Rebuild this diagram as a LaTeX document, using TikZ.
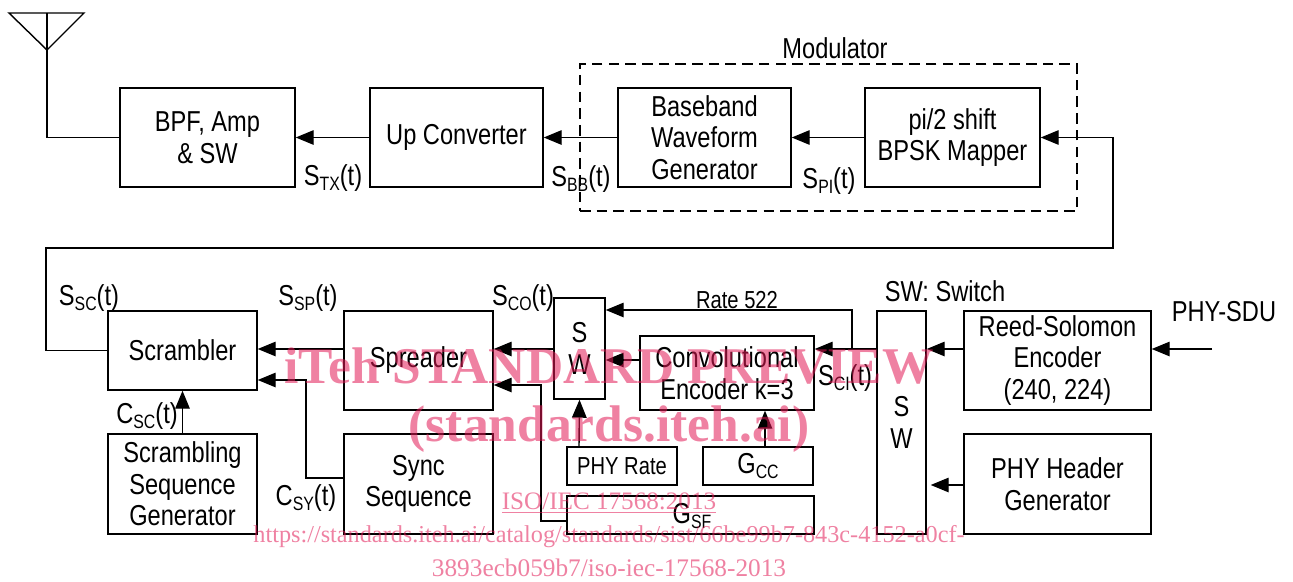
\documentclass[tikz,border=0pt]{standalone}
\usepackage{fontspec}
\setmainfont{Liberation Sans}[FakeStretch=0.82]
\newfontfamily\wmfont{Liberation Serif}
\usepackage{xcolor}
\usetikzlibrary{arrows.meta,positioning,calc,fit}
\definecolor{wmpink}{HTML}{E11955}
\newcommand{\sgn}[2]{#1\raisebox{-0.35ex}{\fontsize{11}{11}\selectfont #2}}

\begin{document}
\begin{tikzpicture}[
  block/.style={draw, line width=0.8pt, inner sep=0pt, align=center, font=\fontsize{16.4}{17.9}\selectfont},
  smallblock/.style={block, font=\fontsize{14}{15}\selectfont},
  arrow/.style={-{Triangle[length=3.6mm, width=2.9mm]}, line width=0.8pt},
  wire/.style={line width=0.8pt},
  sig/.style={inner sep=0pt, font=\fontsize{16.4}{17.9}\selectfont},
  mark text/.style={inner sep=0pt, text=wmpink, text opacity=0.55, align=center}
]
\useasboundingbox (0,0) rectangle (25.86,11.62);

% Top row
\node[block, minimum width=3.5cm, minimum height=1.98cm] (bpf) at (4.15, 8.87) {BPF, Amp\\\& SW};
\node[block, minimum width=3.46cm, minimum height=1.98cm] (upc) at (9.13, 8.87) {Up Converter};
\node[block, minimum width=3.46cm, minimum height=1.98cm] (bbw) at (14.09, 8.87) {Baseband\\Waveform\\Generator};
\node[block, minimum width=3.5cm, minimum height=1.98cm] (map) at (19.05, 8.87) {pi/2 shift\\BPSK Mapper};
\node[draw, dashed, line width=0.8pt, dash pattern=on 6pt off 3.5pt, inner sep=0pt, minimum width=9.94cm, minimum height=2.94cm] (mod) at (16.57, 8.87) {};
\node[sig, above=0.08cm of mod.north, xshift=0.13cm] (modt) {Modulator};

% Antenna
\node[inner sep=0pt, minimum size=0pt] (ant) at (0.94, 10.62) {};
\coordinate (antl) at (0.18, 11.36);
\coordinate (antr) at (1.68, 11.36);
\coordinate (anttop) at (0.94, 11.36);
\draw[wire] (antl) -- (antr) -- (ant.center) -- cycle;
\draw[wire] (anttop) -- (ant.center) |- (bpf.west);

% Lower row
\node[block, minimum width=2.98cm, minimum height=1.58cm] (scr) at (3.65, 4.61) {Scrambler};
\node[block, minimum width=2.98cm, minimum height=2cm] (scs) at (3.65, 1.94) {Scrambling\\Sequence\\Generator};
\node[block, minimum width=2.98cm, minimum height=1.98cm] (spr) at (8.37, 4.41) {Spreader};
\node[block, minimum width=2.98cm, minimum height=2cm] (syn) at (8.37, 1.94) {Sync\\Sequence};
\node[block, minimum width=1.02cm, minimum height=2.02cm] (swa) at (11.59, 4.65) {S\\W};
\node[block, minimum width=3.48cm, minimum height=1.48cm] (conv) at (14.54, 4.16) {Convolutional\\Encoder k=3};
\node[smallblock, minimum width=2.2cm, minimum height=0.76cm] (rate) at (12.44, 2.30) {PHY Rate};
\node[block, minimum width=2.2cm, minimum height=0.76cm] (gcc) at (15.16, 2.30) {\sgn{G}{CC}};
\node[block, minimum width=4.94cm, minimum height=0.76cm] (gsf) at (13.81, 1.32) {};
\node[sig] (gsft) at (13.84, 1.30) {\sgn{G}{SF}};
\node[block, minimum width=0.98cm, minimum height=4.46cm] (swb) at (18.03, 3.17) {S\\W};
\node[block, minimum width=3.74cm, minimum height=1.98cm] (rs) at (21.15, 4.41) {Reed-Solomon\\Encoder\\(240, 224)};
\node[block, minimum width=3.74cm, minimum height=2cm] (phh) at (21.15, 1.94) {PHY Header\\Generator};

% Helper points
\coordinate (rowa) at (0, 4.64);
\coordinate (rowb) at (0, 3.92);
\coordinate (ratey) at (0, 5.42);
\coordinate (sdu) at (24.24, 4.64);
\coordinate (loopa) at (22.26, 8.87);
\coordinate (loopb) at (22.26, 6.66);
\coordinate (loopc) at (0.92, 6.66);
\coordinate (tap) at (17.04, 4.64);

% Top row arrows
\draw[arrow] (upc.west) -- (bpf.east);
\draw[arrow] (bbw.west) -- (upc.east);
\draw[arrow] (map.west) -- (bbw.east);
\draw[arrow] (scr.west) -| (loopc) -- (loopb) -- (loopa) -- (map.east);

% Lower row arrows
\draw[arrow] (sdu) -- (rs.east |- sdu);
\draw[arrow] (rs.west |- rowa) -- (swb.east |- rowa);
\draw[arrow] (phh.west |- 0,1.92) -- ([xshift=0.08cm]swb.east |- 0,1.92);
\draw[arrow] (swb.west |- rowa) -- (conv.east |- rowa);
\draw[arrow] (tap) |- (swa.east |- ratey);
\draw[arrow] (conv.west |- 0,4.42) -- (swa.east |- 0,4.42);
\draw[arrow] (swa.west |- rowa) -- (spr.east |- rowa);
\draw[arrow] (spr.west |- rowa) -- (scr.east |- rowa);
\draw[arrow] (gsf.west |- 0,1.2) -| (10.82,3.92) -- (spr.east |- rowb);
\draw[arrow] (syn.west |- 0,2.06) -| (6.12,4.02) -- (scr.east |- 0,4.02);
\draw[arrow] (scs.north) -- (scr.south);
\draw[arrow] (rate.north -| 11.58,0) -- (swa.south);
\draw[arrow] (gcc.north -| 15.3,0) -- (conv.south -| 15.3,0);

% Signal names
\node[sig] (stx) at (6.66, 8.06) {\sgn{S}{TX}(t)};
\node[sig] (sbb) at (11.62, 8.04) {\sgn{S}{BB}(t)};
\node[sig] (spi) at (16.58, 8.00) {\sgn{S}{PI}(t)};
\node[sig] (ssc) at (1.78, 5.66) {\sgn{S}{SC}(t)};
\node[sig] (ssp) at (6.16, 5.66) {\sgn{S}{SP}(t)};
\node[sig] (sco) at (10.46, 5.66) {\sgn{S}{CO}(t)};
\node[sig] (csc) at (2.94, 3.30) {\sgn{C}{SC}(t)};
\node[sig] (csy) at (6.12, 1.66) {\sgn{C}{SY}(t)};
\node[sig] (sci) at (16.90, 4.06) {\sgn{S}{CI}(t)};
\node[smallblock, draw=none] (rt) at (14.74, 5.62) {Rate 522};
\node[sig] (swkey) at (18.90, 5.80) {SW: Switch};
\node[sig] (phy) at (24.48, 5.38) {PHY-SDU};

% Watermark
\node[mark text, font=\wmfont\bfseries\fontsize{29.3}{30}\selectfont] (wma) at (12.18, 4.30) {iTeh STANDARD PREVIEW};
\node[mark text, font=\wmfont\bfseries\fontsize{29.3}{30}\selectfont] (wmb) at (12.18, 3.04) {(standards.iteh.ai)};
\node[mark text, font=\wmfont\fontsize{14.3}{16}\selectfont] (wmc) at (12.18, 1.56) {\underline{ISO/IEC 17568:2013}};
\node[mark text, font=\wmfont\fontsize{13.8}{16}\selectfont] (wmd) at (12.18, 0.88) {https://standards.iteh.ai/catalog/standards/sist/66be99b7-843c-4152-a0cf-};
\node[mark text, font=\wmfont\fontsize{14.4}{16}\selectfont] (wme) at (12.18, 0.26) {3893ecb059b7/iso-iec-17568-2013};

\end{tikzpicture}
\end{document}
